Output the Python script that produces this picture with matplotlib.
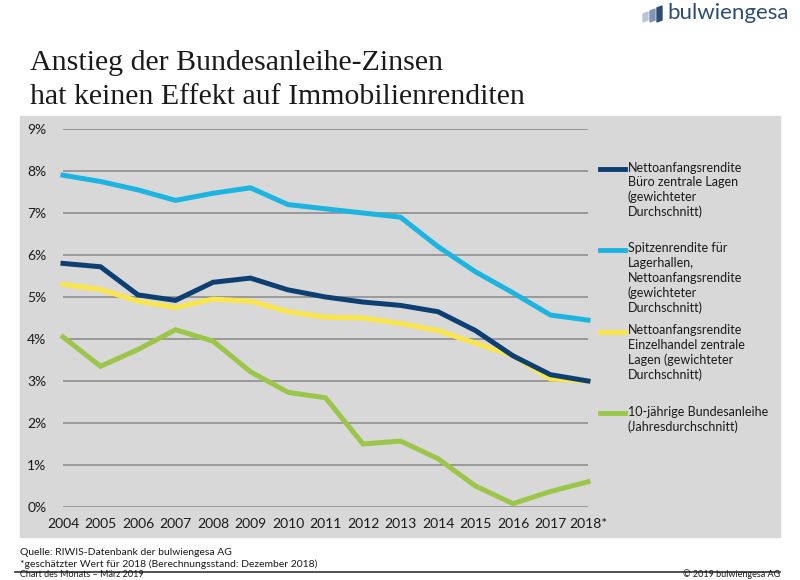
import matplotlib
matplotlib.use("Agg")
import matplotlib.pyplot as plt
from matplotlib.patches import Rectangle, Polygon
from matplotlib.lines import Line2D
from matplotlib.ticker import FuncFormatter

plt.rcParams["font.family"] = ["Lato", "DejaVu Sans"]

# ── Daten ──
years = list(range(2004, 2019))
year_labels = [str(y) for y in years[:-1]] + ["2018*"]
buero = [5.80, 5.72, 5.05, 4.92, 5.35, 5.45, 5.17, 5.00, 4.88, 4.80, 4.65, 4.20, 3.60, 3.15, 3.00]
lager = [7.90, 7.75, 7.55, 7.30, 7.47, 7.60, 7.20, 7.10, 7.00, 6.90, 6.20, 5.60, 5.10, 4.57, 4.45]
handel = [5.30, 5.18, 4.90, 4.75, 4.95, 4.90, 4.65, 4.52, 4.50, 4.37, 4.20, 3.90, 3.60, 3.05, 3.00]
bund = [4.05, 3.35, 3.75, 4.22, 3.95, 3.22, 2.73, 2.60, 1.50, 1.57, 1.15, 0.50, 0.08, 0.37, 0.60]

series = [
    (buero, "#0d3f73", "Nettoanfangsrendite\nBüro zentrale Lagen\n(gewichteter\nDurchschnitt)"),
    (lager, "#1cb5e2", "Spitzenrendite für\nLagerhallen,\nNettoanfangsrendite\n(gewichteter\nDurchschnitt)"),
    (handel, "#f9e64c", "Nettoanfangsrendite\nEinzelhandel zentrale\nLagen (gewichteter\nDurchschnitt)"),
    (bund, "#9bc64a", "10-jährige Bundesanleihe\n(Jahresdurchschnitt)"),
]
draw_order = [3, 2, 0, 1]  # grün unten, dann gelb, navy, hellblau
legend_y = [169, 250, 332, 413]  # Pixel von oben

W, H = 800, 580
fig = plt.figure(figsize=(W / 100, H / 100), dpi=100)


def fx(px):
    return px / W


def fy(py):
    return 1 - py / H


# grauer Hintergrund
fig.patches.append(Rectangle((fx(20), fy(537)), fx(760), 421 / H,
                             transform=fig.transFigure, color="#d9d8d8", zorder=-5))

ax = fig.add_axes([fx(63), fy(507), fx(525), 378 / H])
ax.set_facecolor("none")
for sp in ax.spines.values():
    sp.set_visible(False)
ax.set_xlim(2004, 2018)
ax.set_ylim(0, 9)
ax.set_yticks(range(0, 10))
ax.yaxis.set_major_formatter(FuncFormatter(lambda v, _: f"{int(v)}%"))
ax.set_xticks(years)
ax.set_xticklabels(year_labels)
ax.tick_params(length=0, labelsize=10, colors="#1a1a1a")
ax.tick_params(axis="y", pad=12)
ax.tick_params(axis="x", pad=8)
ax.grid(axis="y", color="#8e8e8e", lw=1.2)
ax.set_axisbelow(True)

for i in draw_order:
    vals, col, _ = series[i]
    ax.plot(years, vals, color=col, lw=3.6, solid_joinstyle="miter", clip_on=False, zorder=3)

# Legende rechts
for (vals, col, lab), y in zip(series, legend_y):
    fig.lines.append(Line2D([fx(600), fx(625)], [fy(y), fy(y)], transform=fig.transFigure,
                            color=col, lw=3.5))
    fig.text(fx(628), fy(y - 7.5), lab, fontsize=9, va="top", ha="left", linespacing=1.25,
             color="#1a1a1a")

# Titel
fig.text(fx(30), fy(70), "Anstieg der Bundesanleihe-Zinsen", fontsize=21.5,
         family="Liberation Serif", color="#1a1a1a", va="baseline")
fig.text(fx(30), fy(104), "hat keinen Effekt auf Immobilienrenditen", fontsize=21.5,
         family="Liberation Serif", color="#1a1a1a", va="baseline")

# Logo
logo_col = "#2d4d75"
for k, (x0, h) in enumerate([(643, 14), (650, 17), (657, 20)]):
    shade = ["#b9c6d6", "#7f95b3", logo_col][k]
    fig.patches.append(Polygon([(fx(x0), fy(8 + 20 - h)), (fx(x0 + 5), fy(6 + 20 - h)),
                                (fx(x0 + 5), fy(20)), (fx(x0), fy(22))],
                               closed=True, transform=fig.transFigure, color=shade))
fig.text(fx(667), fy(19), "bulwiengesa", fontsize=16, color=logo_col, va="baseline")

# Fußzeile
fig.text(fx(20), fy(555), "Quelle: RIWIS-Datenbank der bulwiengesa AG", fontsize=7.5,
         color="#1a1a1a", va="baseline")
fig.text(fx(20), fy(567), "*geschätzter Wert für 2018 (Berechnungsstand: Dezember 2018)",
         fontsize=7.5, color="#1a1a1a", va="baseline")
fig.lines.append(Line2D([fx(15), fx(780)], [fy(572), fy(572)], transform=fig.transFigure,
                        color="#333333", lw=1.2))
fig.text(fx(20), fy(577), "Chart des Monats – März 2019", fontsize=6.5, color="#1a1a1a",
         va="baseline")
fig.text(fx(780), fy(577), "© 2019 bulwiengesa AG", fontsize=6.5, color="#1a1a1a",
         va="baseline", ha="right")

fig.savefig("out.png", dpi=100)
